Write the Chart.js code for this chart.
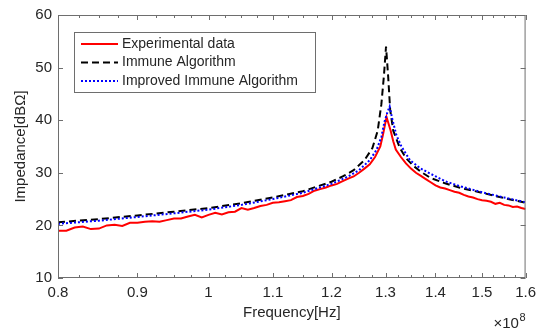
<!DOCTYPE html>
<html>
<head>
<meta charset="utf-8">
<script src="https://cdn.jsdelivr.net/npm/chart.js@4.4.0/dist/chart.umd.min.js"></script>
<style>
html, body { margin: 0; padding: 0; background: #fff; }
#wrap { width: 542px; height: 335px; }
</style>
</head>
<body>
<div id="wrap"><canvas id="chart" width="542" height="335"></canvas></div>
<script>
// frequency in units of 1e8 Hz, impedance in dB-ohm
const expFreq = [0.80, 0.81, 0.82, 0.83, 0.84, 0.85, 0.86, 0.87, 0.88, 0.89,
    0.90, 0.91, 0.92, 0.93, 0.94, 0.95, 0.96, 0.97, 0.98, 0.99,
    1.00, 1.01, 1.02, 1.03, 1.04, 1.05, 1.06, 1.07, 1.08, 1.09,
    1.10, 1.11, 1.12, 1.13, 1.14, 1.15, 1.16, 1.17, 1.18, 1.19,
    1.20, 1.21, 1.22, 1.23, 1.24, 1.25, 1.26, 1.27, 1.28, 1.29,
    1.295, 1.302, 1.31, 1.315, 1.32, 1.33, 1.34, 1.35, 1.36, 1.37,
    1.38, 1.39, 1.40, 1.41, 1.42, 1.43, 1.44, 1.45, 1.46, 1.47,
    1.48, 1.49, 1.50, 1.51, 1.52, 1.53, 1.54, 1.55, 1.56, 1.57,
    1.58, 1.59, 1.60];
const expValues = [19.0, 19.0, 19.6, 19.8, 19.3, 19.4, 20.0, 20.1, 19.9, 20.5,
    20.5, 20.7, 20.8, 20.7, 21.0, 21.3, 21.3, 21.7, 22.0, 21.5,
    22.0, 22.4, 22.1, 22.5, 22.6, 23.3, 23.0, 23.3, 23.7, 23.9,
    24.3, 24.4, 24.6, 24.8, 25.4, 25.6, 26.0, 26.6, 26.9, 27.2,
    27.6, 27.9, 28.4, 28.9, 29.3, 30.0, 30.8, 31.6, 33.0, 35.0,
    37.2, 40.6, 38.0, 36.0, 34.4, 33.0, 31.8, 30.8, 30.0, 29.4,
    28.8, 28.2, 27.6, 27.2, 27.0, 26.7, 26.4, 26.2, 25.8, 25.5,
    25.3, 25.0, 24.8, 24.7, 24.5, 24.1, 24.3, 23.9, 23.8, 23.5,
    23.6, 23.3, 23.1];

const iaFreq = [0.80, 0.85, 0.90, 0.95, 1.00, 1.05, 1.10, 1.15, 1.20, 1.22,
    1.24, 1.26, 1.275, 1.285, 1.292, 1.297, 1.301, 1.305, 1.309, 1.315,
    1.328, 1.34, 1.354, 1.37, 1.39, 1.42, 1.45, 1.50, 1.55, 1.60];
const iaValues = [20.6, 21.2, 21.9, 22.6, 23.3, 24.2, 25.3, 26.5, 28.3, 29.3,
    30.5, 32.4, 34.7, 38.0, 43.0, 48.5, 54.0, 48.5, 42.0, 38.0,
    34.7, 32.8, 31.4, 30.2, 29.0, 28.0, 27.2, 26.2, 25.2, 24.3];

const iiaFreq = [0.80, 0.85, 0.90, 0.95, 1.00, 1.05, 1.10, 1.15, 1.20, 1.23,
    1.25, 1.27, 1.283, 1.292, 1.298, 1.304, 1.308, 1.313, 1.321, 1.331,
    1.348, 1.368, 1.388, 1.42, 1.45, 1.50, 1.55, 1.60];
const iiaValues = [20.3, 20.9, 21.6, 22.3, 23.0, 23.9, 25.0, 26.2, 27.9, 29.3,
    30.5, 32.4, 34.4, 36.8, 39.7, 41.6, 42.6, 40.3, 37.2, 35.0,
    32.4, 30.9, 29.9, 28.4, 27.5, 26.3, 25.3, 24.4];

const seriesLabels = ['Experimental data', 'Immune Algorithm', 'Improved Immune Algorithm'];
const xMajorTicks = [0.8, 0.9, 1.0, 1.1, 1.2, 1.3, 1.4, 1.5, 1.6];
const yTicks = [10, 20, 30, 40, 50, 60];

const axisColor = '#6e6e6e';
const textColor = '#262626';
const fontFamily = '"Liberation Sans", Arial, Helvetica, sans-serif';

// minor ticks every 0.025 between the labelled ones
const xAllTicks = [];
xMajorTicks.forEach((v, i) => {
    xAllTicks.push({ value: v, major: true });
    if (i < xMajorTicks.length - 1) {
        for (let k = 1; k < 4; k++) {
            xAllTicks.push({ value: +(v + k * 0.025).toFixed(3), major: false });
        }
    }
});

function toPoints(xs, ys) {
    return xs.map((x, i) => ({ x: x, y: ys[i] }));
}

const matlabAxes = {
    id: 'matlabAxes',
    afterDatasetsDraw(chart) {
        const ctx = chart.ctx;
        const area = chart.chartArea;
        const xs = chart.scales.x;
        const ys = chart.scales.y;

        ctx.save();
        ctx.strokeStyle = axisColor;
        ctx.lineWidth = 1;
        ctx.strokeRect(area.left + 0.5, area.top + 0.5, area.right - area.left - 1, area.bottom - area.top - 1);

        // inward ticks on all four sides
        ctx.beginPath();
        xAllTicks.forEach(t => {
            const px = Math.round(xs.getPixelForValue(t.value)) + 0.5;
            const len = t.major ? 5 : 3;
            ctx.moveTo(px, area.bottom);
            ctx.lineTo(px, area.bottom - len);
            ctx.moveTo(px, area.top);
            ctx.lineTo(px, area.top + len);
        });
        yTicks.forEach(v => {
            const py = Math.round(ys.getPixelForValue(v)) + 0.5;
            ctx.moveTo(area.left, py);
            ctx.lineTo(area.left + 5, py);
            ctx.moveTo(area.right, py);
            ctx.lineTo(area.right - 5, py);
        });
        ctx.stroke();

        // legend box
        const lx = area.left + 16;
        const ly = area.top + 17;
        const lw = 241;
        const lh = 60;
        ctx.fillStyle = '#fff';
        ctx.fillRect(lx, ly, lw, lh);
        ctx.strokeStyle = axisColor;
        ctx.strokeRect(lx + 0.5, ly + 0.5, lw, lh);

        ctx.font = '14px ' + fontFamily;
        ctx.textBaseline = 'middle';
        ctx.textAlign = 'left';
        chart.data.datasets.forEach((ds, i) => {
            const y = ly + 12 + i * 18.5;
            ctx.beginPath();
            ctx.strokeStyle = ds.borderColor;
            ctx.lineWidth = ds.borderWidth;
            ctx.setLineDash(ds.borderDash || []);
            ctx.moveTo(lx + 7, y);
            ctx.lineTo(lx + 44, y);
            ctx.stroke();
            ctx.setLineDash([]);
            ctx.fillStyle = textColor;
            ctx.fillText(seriesLabels[i], lx + 48, y);
        });

        // exponent label
        ctx.fillStyle = textColor;
        ctx.textAlign = 'right';
        ctx.textBaseline = 'alphabetic';
        ctx.font = '11px ' + fontFamily;
        const expW = ctx.measureText('8').width;
        ctx.fillText('8', area.right, 321);
        ctx.font = '15px ' + fontFamily;
        ctx.fillText('\u00d710', area.right - expW - 0.5, 328);
        ctx.restore();
    }
};

new Chart(document.getElementById('chart'), {
    type: 'line',
    data: {
        datasets: [
            {
                label: seriesLabels[0],
                data: toPoints(expFreq, expValues),
                borderColor: '#ff0000',
                borderWidth: 2,
                pointRadius: 0,
                tension: 0,
                order: 3
            },
            {
                label: seriesLabels[1],
                data: toPoints(iaFreq, iaValues),
                borderColor: '#000000',
                borderWidth: 2,
                borderDash: [7, 4],
                pointRadius: 0,
                tension: 0,
                order: 2
            },
            {
                label: seriesLabels[2],
                data: toPoints(iiaFreq, iiaValues),
                borderColor: '#0000ff',
                borderWidth: 2,
                borderDash: [2, 2],
                pointRadius: 0,
                tension: 0,
                order: 1
            }
        ]
    },
    options: {
        responsive: false,
        animation: false,
        devicePixelRatio: 1,
        layout: { padding: { top: 12, right: 16, left: 0, bottom: 0 } },
        plugins: {
            legend: { display: false },
            tooltip: { enabled: false }
        },
        scales: {
            x: {
                type: 'logarithmic',
                min: 0.8,
                max: 1.6,
                afterBuildTicks: scale => {
                    scale.ticks = xAllTicks.map(t => ({ value: t.value }));
                },
                afterFit: scale => { scale.height = 57; },
                grid: { display: false, drawTicks: false },
                border: { display: false },
                ticks: {
                    autoSkip: false,
                    maxRotation: 0,
                    minRotation: 0,
                    padding: 6,
                    color: textColor,
                    font: { size: 15, family: fontFamily },
                    callback: value => {
                        const t = value * 10;
                        if (Math.abs(t - Math.round(t)) > 1e-6) return '';
                        return String(Math.round(t) / 10);
                    }
                },
                title: {
                    display: true,
                    text: 'Frequency[Hz]',
                    color: textColor,
                    font: { size: 15, family: fontFamily },
                    padding: { top: 0, bottom: 13 }
                }
            },
            y: {
                type: 'linear',
                min: 10,
                max: 60,
                afterBuildTicks: scale => {
                    scale.ticks = yTicks.map(v => ({ value: v }));
                },
                afterFit: scale => { scale.width = 58; },
                grid: { display: false, drawTicks: false },
                border: { display: false },
                ticks: {
                    padding: 6,
                    color: textColor,
                    font: { size: 15, family: fontFamily }
                },
                title: {
                    display: true,
                    text: 'Impedance[dB\u03a9]',
                    color: textColor,
                    font: { size: 15, family: fontFamily },
                    padding: { top: 12, bottom: 0 }
                }
            }
        }
    },
    plugins: [matlabAxes]
});
</script>
</body>
</html>
